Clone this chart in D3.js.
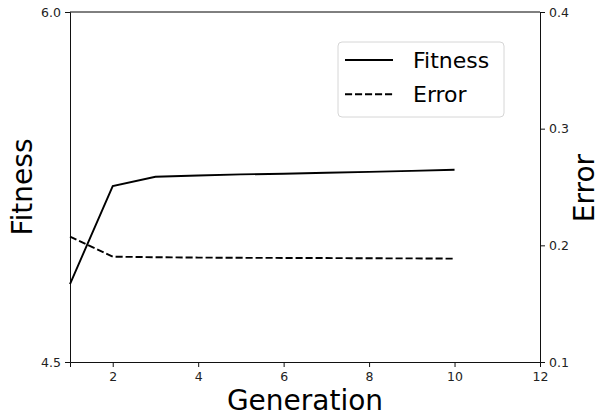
<!DOCTYPE html>
<html>
<head>
<meta charset="utf-8">
<script src="https://cdn.jsdelivr.net/npm/d3@7"></script>
<style>
  body { margin: 0; background: #fff; }
  svg { display: block; font-family: "DejaVu Sans", sans-serif; }
</style>
</head>
<body>
<svg id="chart" width="602" height="417"></svg>
<script>
const generations = [1, 2, 3, 4, 5, 6, 7, 8, 9, 10];
const fitness = [4.834, 5.254, 5.294, 5.299, 5.304, 5.307, 5.311, 5.315, 5.319, 5.324];
const error = [0.2074, 0.1903, 0.1898, 0.1895, 0.1893, 0.1892, 0.1891, 0.1889, 0.1888, 0.1886];
const xTicks = [2, 4, 6, 8, 10, 12];
const fitnessTicks = [4.5, 6.0];
const errorTicks = [0.1, 0.2, 0.3, 0.4];
const seriesNames = ["Fitness", "Error"];

const svg = d3.select("#chart");
const mLeft = 70, mRight = 540, mTop = 12, mBottom = 362;
const dashPattern = "7.1,2.9";
const lineW = 1.9;

const x = d3.scaleLinear().domain([1, 12]).range([mLeft, mRight]);
const yF = d3.scaleLinear().domain([4.5, 6.0]).range([mBottom, mTop]);
const yE = d3.scaleLinear().domain([0.1, 0.4]).range([mBottom, mTop]);

// top spine
svg.append("line").attr("x1", mLeft).attr("x2", mRight).attr("y1", mTop).attr("y2", mTop)
  .attr("stroke", "#000").attr("stroke-width", 1);

function styleAxis(g) {
  g.selectAll(".domain").attr("stroke", "#111").attr("stroke-width", 1);
  g.selectAll(".tick line").attr("stroke", "#111").attr("stroke-width", 1);
  g.selectAll(".tick text").attr("fill", "#222").attr("font-size", "12.5px")
    .attr("font-family", "DejaVu Sans, sans-serif");
}

const gx = svg.append("g").attr("transform", `translate(0,${mBottom})`)
  .call(d3.axisBottom(x).tickValues(xTicks).tickFormat(d3.format("d")).tickSizeOuter(0).tickSize(5).tickPadding(5));
styleAxis(gx);

const gl = svg.append("g").attr("transform", `translate(${mLeft},0)`)
  .call(d3.axisLeft(yF).tickValues(fitnessTicks).tickFormat(d3.format(".1f")).tickSizeOuter(0).tickSize(5).tickPadding(4));
styleAxis(gl);

const gr = svg.append("g").attr("transform", `translate(${mRight},0)`)
  .call(d3.axisRight(yE).tickValues(errorTicks).tickFormat(d3.format(".1f")).tickSizeOuter(0).tickSize(5).tickPadding(4));
styleAxis(gr);

// lines
const data = generations.map((g, i) => ({g, f: fitness[i], e: error[i]}));
svg.append("path").datum(data)
  .attr("fill", "none").attr("stroke", "#000").attr("stroke-width", lineW)
  .attr("d", d3.line().x(d => x(d.g)).y(d => yF(d.f)));
svg.append("path").datum(data)
  .attr("fill", "none").attr("stroke", "#000").attr("stroke-width", lineW)
  .attr("stroke-dasharray", dashPattern)
  .attr("d", d3.line().x(d => x(d.g)).y(d => yE(d.e)));

// axis labels
svg.append("text").attr("x", (mLeft + mRight) / 2).attr("y", 410)
  .attr("text-anchor", "middle").attr("font-size", "28px").attr("fill", "#000").text("Generation");
svg.append("text").attr("transform", `translate(32,${(mTop + mBottom) / 2}) rotate(-90)`)
  .attr("text-anchor", "middle").attr("font-size", "28px").attr("fill", "#000").text("Fitness");
svg.append("text").attr("transform", `translate(594,${(mTop + mBottom) / 2 + 1}) rotate(-90)`)
  .attr("text-anchor", "middle").attr("font-size", "28px").attr("fill", "#000").text("Error");

// legend
const lg = svg.append("g");
lg.append("rect").attr("x", 338).attr("y", 42).attr("width", 166).attr("height", 75)
  .attr("rx", 4).attr("fill", "#fff").attr("fill-opacity", 0.8)
  .attr("stroke", "#d6d6d6").attr("stroke-width", 1);
const dashes = [null, dashPattern];
seriesNames.forEach((name, i) => {
  const yy = 60 + i * 34.3;
  lg.append("line").attr("x1", 345).attr("x2", 393).attr("y1", yy).attr("y2", yy)
    .attr("stroke", "#000").attr("stroke-width", lineW)
    .attr("stroke-dasharray", dashes[i]);
  lg.append("text").attr("x", 413).attr("y", yy + 8).attr("font-size", "22px")
    .attr("fill", "#000").text(name);
});
</script>
</body>
</html>
